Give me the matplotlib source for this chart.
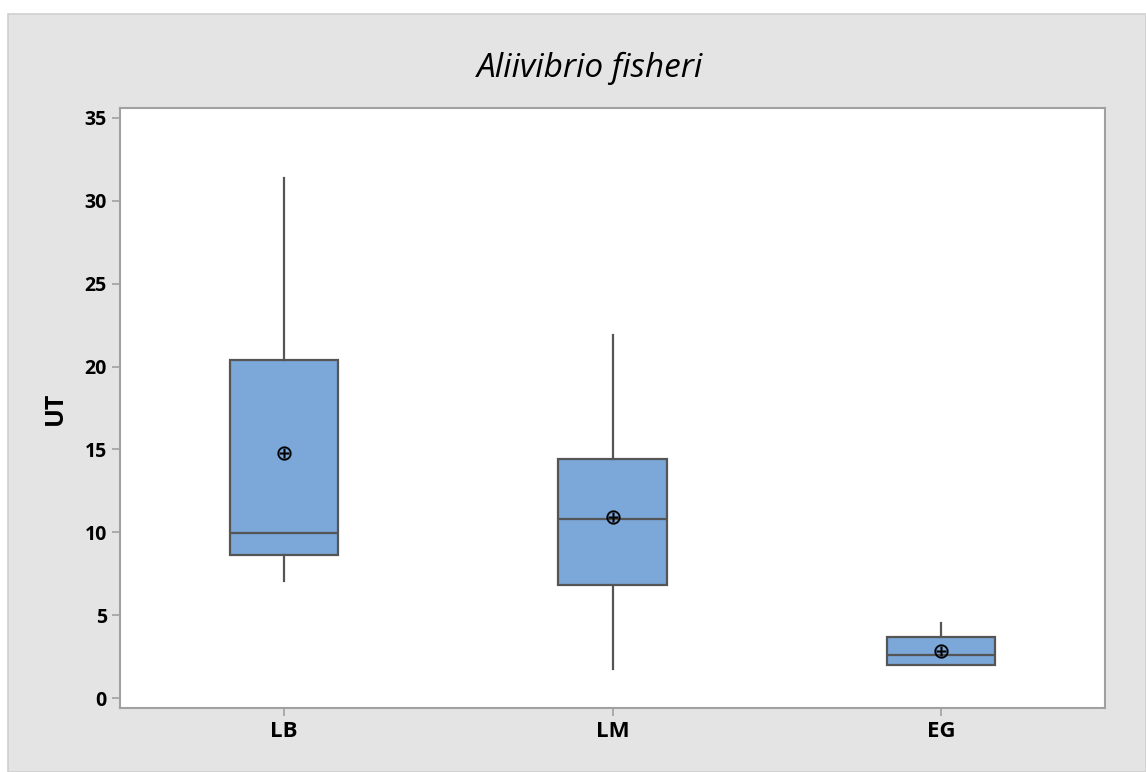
import matplotlib
matplotlib.use("Agg")
import matplotlib.pyplot as plt
from matplotlib.patches import Rectangle

# values
groups = ["LB", "LM", "EG"]
whisker_low = [7.05, 1.75, 1.99]
q1 = [8.65, 6.85, 1.99]
median = [9.95, 10.8, 2.6]
q3 = [20.4, 14.4, 3.67]
whisker_high = [31.4, 21.9, 4.55]
mean = [14.8, 10.9, 2.85]

plt.rcParams['font.family'] = ['Open Sans', 'DejaVu Sans']

fig = plt.figure(figsize=(11.46, 7.72), dpi=100, facecolor='white')
# grey panel behind the plot
fig.patches.append(Rectangle((8 / 1146, 0), 1 - 8 / 1146, 1 - 14 / 772,
                             transform=fig.transFigure, facecolor='#E4E4E4',
                             edgecolor='#CFCFCF', linewidth=1.2, zorder=-1))

ax = fig.add_axes([120 / 1146, 1 - 708 / 772, 985 / 1146, 600 / 772])
ax.set_facecolor('white')

stats = []
for i, g in enumerate(groups):
    stats.append(dict(label=g, whislo=whisker_low[i], q1=q1[i], med=median[i],
                      q3=q3[i], whishi=whisker_high[i], mean=mean[i], fliers=[]))

ax.bxp(stats, positions=[1, 2, 3], widths=0.33, patch_artist=True,
       showcaps=False, showmeans=True,
       boxprops=dict(facecolor='#7BA7D9', edgecolor='#555555', linewidth=1.6),
       medianprops=dict(color='#555555', linewidth=1.6),
       whiskerprops=dict(color='#555555', linewidth=1.6),
       meanprops=dict(marker='$\\oplus$', markersize=10, markerfacecolor='black',
                      markeredgecolor='black', markeredgewidth=0.2))

ax.set_xlim(0.5, 3.5)
ax.set_ylim(-0.6, 35.6)
ax.set_yticks([0, 5, 10, 15, 20, 25, 30, 35])
for s in ax.spines.values():
    s.set_color('#A0A0A0')
    s.set_linewidth(1.5)
ax.tick_params(axis='both', colors='#A0A0A0', length=6, width=1.2)
ax.tick_params(axis='y', labelcolor='black', labelsize=14)
ax.tick_params(axis='x', labelcolor='black', labelsize=16)
for lab in ax.get_xticklabels() + ax.get_yticklabels():
    lab.set_fontweight('bold')

ax.set_ylabel('UT', fontsize=18, fontweight='bold', labelpad=12)
fig.text(590 / 1146, 1 - 68 / 772, 'Aliivibrio fisheri', fontsize=24,
         fontstyle='italic', ha='center', va='center')

fig.savefig('out.png', dpi=100, facecolor=fig.get_facecolor())
